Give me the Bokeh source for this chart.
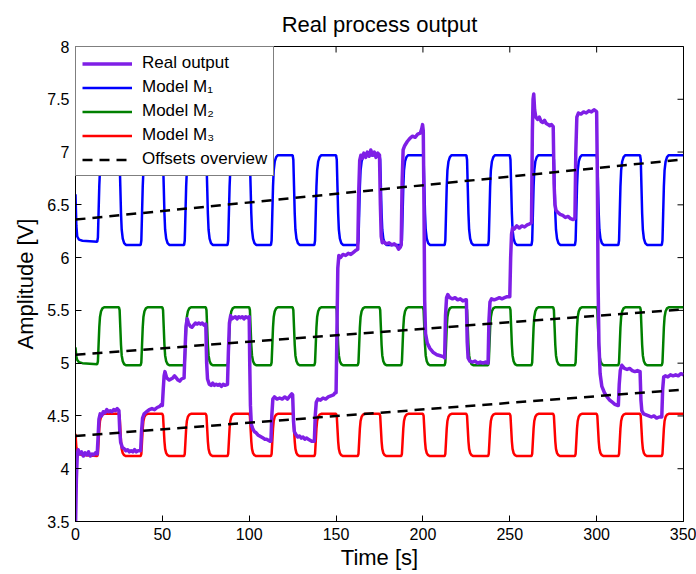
import math
from bokeh.plotting import figure
from bokeh.models import Range1d, FixedTicker, CustomJSTickFormatter, Legend, LegendItem
from bokeh.embed import file_html
from bokeh.resources import INLINE

# ---------------- data ----------------
X_TICKS = [0, 50, 100, 150, 200, 250, 300, 350]
Y_TICKS = [3.5, 4, 4.5, 5, 5.5, 6, 6.5, 7, 7.5, 8]

# Real output (time [s], amplitude [V])
REAL_T = [
    0.0, 0.5, 1.0, 1.5, 2.5, 3.5, 4.5, 5.5, 6.5, 7.5, 8.5, 9.5, 10.5, 11.5, 12.5,
    13.0, 13.5, 14.2, 15, 16, 17, 18, 19, 20, 21, 22, 23, 24, 25,
    25.5, 26, 27, 28, 29, 30, 31, 32, 33, 34, 35, 36, 37.5,
    38, 38.6, 39.5, 41, 42.5, 44, 45.5, 47, 48.5, 49.5, 50,
    50.5, 51, 51.5, 52.5, 54, 55, 56, 57, 58, 59, 60, 61, 62.5,
    63, 63.6, 64.3, 65, 66, 67, 68, 69, 70, 71, 72, 73, 74, 75,
    75.5, 76, 77, 78, 79, 80, 81, 82, 83, 84, 85, 86, 87.5,
    88, 88.6, 89.3, 90, 91, 92, 93, 94, 95, 96, 97, 98, 99, 100,
    100.3, 100.7, 101.2, 102, 103, 104, 105, 106, 107, 108, 109, 110, 111, 112, 112.5,
    113, 113.6, 114.5, 116, 117.5, 119, 120.5, 122, 123.5, 124.5, 125,
    125.5, 126, 127, 128, 129, 130, 131, 132, 133, 134, 135, 136, 137.5,
    138, 138.6, 139.5, 141, 142.5, 144, 145.5, 147, 148.5, 149.5, 150,
    150.5, 151, 151.6, 152.5, 154, 155.5, 157, 158.5, 160, 161.5, 162.5,
    163, 163.6, 164.3, 165, 166, 167, 168, 169, 170, 171, 172, 173, 174, 175,
    175.5, 176, 176.6, 177.5, 179, 180.5, 182, 183.5, 185, 186, 187, 187.5,
    188, 188.6, 189.5, 191, 192.5, 194, 195.5, 197, 198.5, 199.3, 199.8, 200.2,
    200.6, 201, 201.5, 202.5, 204, 206, 208, 210, 212, 212.5,
    213, 213.6, 214.3, 215.5, 217, 218.5, 220, 221.5, 223, 224.5, 225,
    225.5, 226, 227, 228.5, 230, 231.5, 233, 234.5, 236, 237.5,
    238, 238.6, 239.5, 241, 242.5, 244, 245.5, 247, 248.5, 250,
    250.5, 251, 251.6, 252.5, 254, 255.5, 257, 258.5, 260, 261.5, 262.5,
    263, 263.4, 263.8, 264.3, 265, 266, 267, 268, 269, 270, 271, 272, 273, 274, 275,
    275.5, 276, 276.6, 277.5, 279, 280.5, 282, 283.5, 285, 286.5, 287.5,
    288, 288.6, 289.5, 291, 292.5, 294, 295.5, 297, 298.5, 299.5, 300,
    300.4, 300.8, 301.3, 302, 303, 304.5, 306, 307.5, 309, 310.5, 312, 312.5,
    313, 313.6, 314.5, 316, 317.5, 319, 320.5, 322, 323.5, 325,
    325.5, 326, 327, 328.5, 330, 331.5, 333, 334.5, 336, 337.5,
    338, 338.6, 339.5, 341, 342.5, 344, 345.5, 347, 348.5, 350,
]
REAL_V = [
    3.45, 3.90, 4.12, 4.18, 4.14, 4.16, 4.12, 4.15, 4.13, 4.16, 4.12, 4.14, 4.13, 4.15, 4.14,
    4.30, 4.47, 4.52, 4.50, 4.54, 4.53, 4.56, 4.54, 4.55, 4.54, 4.56, 4.55, 4.57, 4.55,
    4.35, 4.25, 4.20, 4.19, 4.17, 4.18, 4.16, 4.17, 4.16, 4.18, 4.16, 4.17, 4.17,
    4.35, 4.48, 4.52, 4.54, 4.56, 4.57, 4.56, 4.58, 4.59, 4.61, 4.60,
    4.75, 4.88, 4.92, 4.86, 4.84, 4.85, 4.86, 4.88, 4.86, 4.84, 4.83, 4.85, 4.86,
    5.10, 5.35, 5.42, 5.38, 5.35, 5.34, 5.36, 5.38, 5.37, 5.38, 5.37, 5.38, 5.36, 5.37,
    5.00, 4.85, 4.80, 4.79, 4.81, 4.79, 4.80, 4.79, 4.80, 4.78, 4.80, 4.79, 4.80,
    5.10, 5.38, 5.45, 5.42, 5.43, 5.44, 5.42, 5.44, 5.43, 5.44, 5.42, 5.44, 5.43, 5.44,
    5.00, 4.60, 4.42, 4.38, 4.35, 4.34, 4.32, 4.31, 4.30, 4.29, 4.28, 4.28, 4.27, 4.26, 4.26,
    4.50, 4.66, 4.68, 4.66, 4.67, 4.66, 4.68, 4.66, 4.69, 4.71, 4.70,
    4.45, 4.35, 4.32, 4.30, 4.31, 4.29, 4.30, 4.28, 4.29, 4.28, 4.27, 4.26, 4.26,
    4.50, 4.63, 4.66, 4.65, 4.67, 4.66, 4.68, 4.69, 4.70, 4.72, 4.72,
    5.30, 5.90, 6.02, 6.00, 6.03, 6.02, 6.04, 6.03, 6.05, 6.07, 6.08,
    6.60, 6.92, 6.97, 6.94, 6.99, 6.95, 7.00, 6.96, 7.02, 6.97, 7.00, 6.95, 6.99, 6.97,
    6.50, 6.20, 6.14, 6.15, 6.13, 6.14, 6.12, 6.13, 6.11, 6.08, 6.10, 6.12,
    6.70, 7.02, 7.06, 7.10, 7.13, 7.15, 7.14, 7.17, 7.18, 7.22, 7.26, 7.20,
    6.50, 5.60, 5.28, 5.19, 5.14, 5.10, 5.08, 5.07, 5.06, 5.05,
    5.45, 5.62, 5.65, 5.62, 5.61, 5.62, 5.60, 5.61, 5.59, 5.60, 5.60,
    5.20, 5.05, 5.02, 5.01, 5.02, 5.00, 5.01, 5.00, 5.01, 5.00,
    5.40, 5.58, 5.61, 5.60, 5.61, 5.62, 5.61, 5.62, 5.63, 5.63,
    6.00, 6.22, 6.28, 6.27, 6.30, 6.28, 6.30, 6.29, 6.31, 6.32, 6.33,
    7.20, 7.50, 7.55, 7.40, 7.33, 7.31, 7.33, 7.29, 7.28, 7.30, 7.27, 7.26, 7.25, 7.26, 7.24,
    6.70, 6.50, 6.45, 6.43, 6.41, 6.40, 6.38, 6.39, 6.37, 6.36, 6.37,
    7.00, 7.33, 7.37, 7.36, 7.38, 7.37, 7.39, 7.38, 7.40, 7.39, 7.38,
    6.80, 5.80, 5.20, 4.90, 4.78, 4.72, 4.68, 4.65, 4.63, 4.61, 4.60, 4.60,
    4.80, 4.93, 4.98, 4.95, 4.94, 4.95, 4.93, 4.92, 4.93, 4.92,
    4.65, 4.55, 4.52, 4.51, 4.50, 4.49, 4.50, 4.48, 4.49, 4.49,
    4.75, 4.87, 4.88, 4.87, 4.89, 4.88, 4.89, 4.88, 4.90, 4.89,
]

# Model outputs: square-wave responses switching every 12.5 s
SWITCH_T = [12.5, 25.0, 37.5, 50.0, 62.5, 75.0, 87.5, 100.0, 112.5, 125.0,
            137.5, 150.0, 162.5, 175.0, 187.5, 200.0, 212.5, 225.0, 237.5,
            250.0, 262.5, 275.0, 287.5, 300.0, 312.5, 325.0, 337.5]
INIT_T = [0.0, 0.5, 1.0, 2.0, 4.0, 12.5]
M1_INIT = [6.60, 6.30, 6.20, 6.17, 6.16, 6.15]
M2_INIT = [5.15, 5.06, 5.03, 5.01, 5.00, 4.99]
M3_INIT = [4.33, 4.20, 4.16, 4.14, 4.13, 4.12]
M1_LOW, M1_HIGH = 6.12, 6.97
M2_LOW, M2_HIGH = 4.98, 5.53
M3_LOW, M3_HIGH = 4.12, 4.52

# Offsets overview (straight dashed lines)
OFF_T = [0, 350]
OFF1 = [6.36, 6.93]
OFF2 = [5.08, 5.51]
OFF3 = [4.31, 4.75]

# shape of a rounded edge (time after switch, fraction of the step)
EDGE_DT = [0.0, 0.4, 0.8, 1.2, 1.6, 2.2, 3.0, 4.0]
EDGE_FRAC = [0.0, 0.05, 0.35, 0.65, 0.83, 0.93, 0.98, 1.0]


def model_curve(init_v, low, high):
    xs = list(INIT_T)
    ys = list(init_v)
    level = init_v[-1]
    for i, ts in enumerate(SWITCH_T):
        target = high if i % 2 == 0 else low
        for dt, fr in zip(EDGE_DT, EDGE_FRAC):
            xs.append(ts + dt)
            ys.append(level + fr * (target - level))
        level = target
    xs.append(350.0)
    ys.append(level)
    return xs, ys


FONT = "Liberation Sans"

p = figure(width=696, height=574, output_backend="svg", toolbar_location=None,
           x_range=Range1d(0, 350), y_range=Range1d(3.5, 8),
           min_border_left=75, min_border_right=13, min_border_top=45,
           min_border_bottom=53, title="Real process output")
p.title.align = "center"
p.title.text_font = FONT
p.title.text_font_size = "22px"
p.title.text_font_style = "normal"
p.title.text_color = "black"
p.title.standoff = 19
p.grid.visible = False
p.outline_line_color = "black"
p.outline_line_width = 1
p.background_fill_color = "white"
p.border_fill_color = "white"

fmt = CustomJSTickFormatter(code="return tick.toString();")

for ax in (p.xaxis[0], p.yaxis[0]):
    ax.major_tick_in = 6
    ax.major_tick_out = 0
    ax.minor_tick_in = 0
    ax.minor_tick_out = 0
    ax.axis_line_color = "black"
    ax.major_tick_line_color = "black"
    ax.major_label_text_font = FONT
    ax.major_label_text_font_size = "16px"
    ax.major_label_text_color = "black"
    ax.axis_label_text_font = FONT
    ax.axis_label_text_font_size = "22px"
    ax.axis_label_text_font_style = "normal"
    ax.axis_label_text_color = "black"
    ax.formatter = fmt

p.xaxis[0].ticker = FixedTicker(ticks=X_TICKS)
p.yaxis[0].ticker = FixedTicker(ticks=Y_TICKS)
p.xaxis[0].axis_label = "Time [s]"
p.yaxis[0].axis_label = "Amplitude [V]"
p.xaxis[0].major_label_standoff = 6
p.yaxis[0].major_label_standoff = 6
p.xaxis[0].axis_label_standoff = 2
p.yaxis[0].axis_label_standoff = 6

x1, y1 = model_curve(M1_INIT, M1_LOW, M1_HIGH)
x2, y2 = model_curve(M2_INIT, M2_LOW, M2_HIGH)
x3, y3 = model_curve(M3_INIT, M3_LOW, M3_HIGH)

r_m1 = p.line(x1, y1, line_color="#0000FF", line_width=2.5)
r_m2 = p.line(x2, y2, line_color="#008000", line_width=2.5)
r_m3 = p.line(x3, y3, line_color="#FF0000", line_width=2.5)

n = min(len(REAL_T), len(REAL_V))
r_real = p.line(REAL_T[:n], REAL_V[:n], line_color="#7F1FE6", line_width=3.5,
                line_join="round")

r_o1 = p.line(OFF_T, OFF1, line_color="black", line_width=2.5, line_dash="10 7")
r_o2 = p.line(OFF_T, OFF2, line_color="black", line_width=2.5, line_dash="10 7")
r_o3 = p.line(OFF_T, OFF3, line_color="black", line_width=2.5, line_dash="10 7")

# inward ticks on the top and right edges of the box (MATLAB "box on")
p.scatter(x=X_TICKS, y=[8] * len(X_TICKS), marker="dash", size=12,
          angle=math.pi / 2, line_color="black", line_width=1)
p.scatter(x=[350] * len(Y_TICKS), y=Y_TICKS, marker="dash", size=12,
          line_color="black", line_width=1)

legend = Legend(items=[
    LegendItem(label="Real output", renderers=[r_real]),
    LegendItem(label="Model M\u2081", renderers=[r_m1]),
    LegendItem(label="Model M\u2082", renderers=[r_m2]),
    LegendItem(label="Model M\u2083", renderers=[r_m3]),
    LegendItem(label="Offsets overview", renderers=[r_o1]),
], location="top_left", border_line_color="black", border_line_width=1,
    background_fill_color="white", background_fill_alpha=1.0, margin=0, padding=6,
    spacing=4, glyph_width=50, glyph_height=19, label_height=19, label_standoff=10,
    label_text_font=FONT, label_text_font_size="17px", label_text_color="black")
p.add_layout(legend)

open("out.html", "w").write(file_html(p, INLINE))
